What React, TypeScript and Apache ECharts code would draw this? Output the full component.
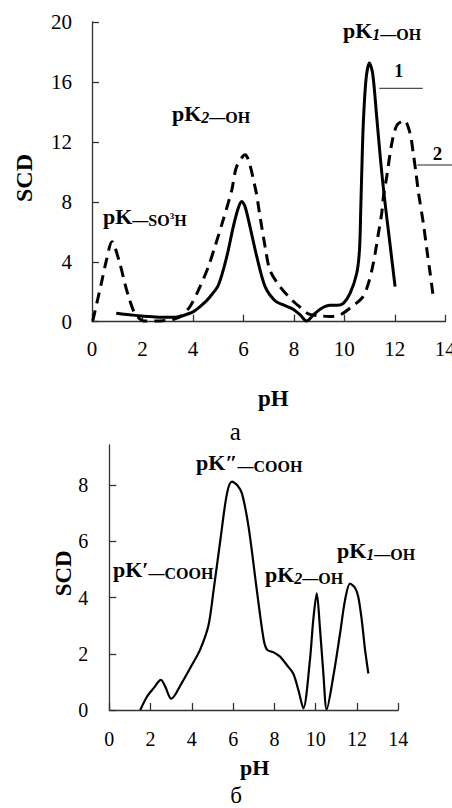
import React, { useEffect, useRef } from "react";
import * as echarts from "echarts";

// ---------- data ----------
const PH_TICKS_STEP = 2;
const PH_MAX = 14;
const SCD_A_MAX = 20;
const SCD_A_STEP = 4;
const SCD_B_MAX = 9.43;
const SCD_B_STEP = 2;
const SCD_B_TICKS = [0, 2, 4, 6, 8];

// Chart a, curve 1 (solid)
const curve1PH = [0.96, 1.5, 1.95, 2.4, 2.88, 3.3, 3.6, 4.02, 4.35, 4.68, 5.01, 5.34, 5.6, 5.8, 5.93, 6.06, 6.26, 6.53, 6.86, 7.25, 7.6, 7.95, 8.25, 8.5, 8.8, 9.1, 9.43, 9.7, 9.96, 10.23, 10.49, 10.6, 10.65, 10.69, 10.75, 10.86, 10.99, 11.12, 11.28, 11.45, 11.58, 11.8, 12.01];
const curve1SCD = [0.56, 0.46, 0.38, 0.33, 0.29, 0.3, 0.4, 0.67, 1.1, 1.67, 2.45, 4.34, 6.35, 7.6, 8.02, 7.7, 6.35, 4.34, 2.34, 1.4, 1.1, 0.85, 0.45, 0.05, 0.5, 0.9, 1.1, 1.1, 1.23, 1.9, 3.23, 4.8, 7.5, 10.0, 13.2, 16.2, 17.26, 16.6, 13.7, 10.5, 8.4, 5.3, 2.34];

// Chart a, curve 2 (dashed)
const curve2PH = [0.03, 0.37, 0.57, 0.79, 1.1, 1.3, 1.49, 1.69, 1.85, 2.05, 2.5, 3.0, 3.3, 3.49, 3.88, 4.28, 4.61, 4.87, 5.2, 5.54, 5.73, 6.06, 6.46, 6.66, 6.86, 7.05, 7.45, 7.92, 8.3, 8.6, 9.0, 9.4, 9.83, 10.29, 10.69, 10.89, 11.09, 11.22, 11.35, 11.48, 11.55, 11.68, 11.88, 12.08, 12.37, 12.6, 12.73, 12.84, 12.94, 13.13, 13.27, 13.4, 13.53];
const curve2SCD = [0.05, 2.56, 4.1, 5.34, 3.9, 2.56, 1.45, 0.56, 0.25, 0.05, 0.05, 0.1, 0.2, 0.33, 1.0, 2.34, 3.67, 5.0, 6.8, 8.8, 10.35, 11.14, 9.0, 7.0, 5.0, 3.45, 2.34, 1.45, 0.9, 0.5, 0.4, 0.35, 0.45, 1.0, 1.56, 2.23, 3.45, 4.57, 5.9, 7.24, 8.35, 9.69, 11.9, 13.1, 13.43, 12.6, 11.25, 9.9, 8.58, 6.57, 4.79, 3.23, 1.56];

// Chart б
const curveBPH = [1.5, 1.83, 2.15, 2.5, 2.7, 3.0, 3.5, 4.0, 4.4, 4.8, 5.05, 5.38, 5.7, 5.94, 6.2, 6.43, 6.75, 7.15, 7.48, 7.64, 7.96, 8.27, 8.6, 8.91, 9.16, 9.4, 9.72, 9.88, 10.05, 10.2, 10.37, 10.53, 10.85, 11.18, 11.42, 11.66, 11.9, 12.06, 12.23, 12.39, 12.55];
const curveBSCD = [0, 0.48, 0.78, 1.07, 0.85, 0.4, 0.95, 1.6, 2.15, 3.0, 4.25, 6.05, 7.7, 8.13, 8.0, 7.7, 6.5, 4.25, 2.5, 2.15, 2.05, 1.9, 1.6, 1.3, 0.71, 0.06, 1.78, 3.2, 4.15, 2.96, 1.3, 0.02, 1.19, 2.73, 3.91, 4.5, 4.35, 4.03, 3.2, 2.14, 1.3];

const FONT = '"Liberation Serif", "Times New Roman", serif';

type Piece = { t: string; size: number; style?: string; dy?: number };

function zip(xs: number[], ys: number[]) {
  return xs.map((x, i) => [x, ys[i]]);
}

function fontOf(p: Piece) {
  const st = p.style ?? "b";
  const italic = st.includes("i") ? "italic " : "";
  const bold = st.includes("b") ? "bold " : "";
  return `${italic}${bold}${p.size}px ${FONT}`;
}

let measureCtx: CanvasRenderingContext2D | null = null;
function measure(text: string, font: string) {
  if (!measureCtx) measureCtx = document.createElement("canvas").getContext("2d");
  if (!measureCtx) return text.length * 8;
  measureCtx.font = font;
  return measureCtx.measureText(text).width;
}

function richLabel(x: number, baseline: number, pieces: Piece[]) {
  const children: any[] = [];
  let cx = x;
  for (const p of pieces) {
    const font = fontOf(p);
    const w = measure(p.t, font);
    children.push({
      type: "text",
      x: cx,
      y: baseline + (p.dy || 0) - 0.34 * p.size,
      style: { text: p.t, font, fill: "#000", align: "left", verticalAlign: "middle" },
    });
    cx += w;
  }
  return { type: "group", children };
}

function centerText(x: number, baseline: number, text: string, size: number, style: string, rotate = 0) {
  const font = fontOf({ t: text, size, style });
  if (rotate) {
    return {
      type: "text",
      x,
      y: baseline,
      rotation: rotate,
      style: { text, font, fill: "#000", align: "center", verticalAlign: "middle" },
    };
  }
  return {
    type: "text",
    x,
    y: baseline - 0.34 * size,
    style: { text, font, fill: "#000", align: "center", verticalAlign: "middle" },
  };
}

const AXIS_COLOR = "#333";

function axisCommon(fontSize: number, margin: number) {
  return {
    axisLine: { show: true, onZero: false, lineStyle: { color: AXIS_COLOR, width: 1.3 } },
    axisTick: { show: true, inside: true, length: 7, lineStyle: { color: AXIS_COLOR, width: 1.3 } },
    axisLabel: { margin, fontSize, fontFamily: FONT, color: "#000" },
    splitLine: { show: false },
  };
}

export default function App() {
  const ref = useRef<HTMLDivElement>(null);

  useEffect(() => {
    document.body.style.margin = "0";
    if (!ref.current) return;
    const chart = echarts.init(ref.current, undefined, { renderer: "svg" });

    const xa0 = axisCommon(21, 17);
    const ya0 = axisCommon(21, 20);
    const xa1 = axisCommon(20, 19);
    const ya1 = axisCommon(20, 21);

    const graphics: any[] = [
      // chart a annotations
      richLabel(343, 37.7, [
        { t: "pK", size: 22 },
        { t: "1", size: 16, style: "bi", dy: 2 },
        { t: "—OH", size: 16, dy: 2 },
      ]),
      richLabel(172, 120.5, [
        { t: "pK", size: 22 },
        { t: "2", size: 16, style: "bi", dy: 2.5 },
        { t: "—OH", size: 16, dy: 2.5 },
      ]),
      richLabel(103, 223.5, [
        { t: "pK", size: 22 },
        { t: "—SO", size: 16, dy: 2.5 },
        { t: "3", size: 9, dy: -4 },
        { t: "H", size: 16, dy: 2.5 },
      ]),
      centerText(398.7, 77.3, "1", 18, "b"),
      { type: "line", shape: { x1: 379.3, y1: 88.3, x2: 422.7, y2: 88.3 }, style: { stroke: "#222", lineWidth: 1 } },
      centerText(437.5, 160, "2", 19, "b"),
      { type: "line", shape: { x1: 417.3, y1: 165, x2: 452, y2: 165 }, style: { stroke: "#222", lineWidth: 1 } },
      centerText(24, 178, "SCD", 24, "b", Math.PI / 2),
      centerText(273.3, 406, "pH", 23, "b"),
      centerText(235.3, 439.5, "a", 25, ""),
      // chart б annotations
      richLabel(196, 470, [
        { t: "pK″", size: 22 },
        { t: "—COOH", size: 16, dy: 2 },
      ]),
      richLabel(113, 576.5, [
        { t: "pK′", size: 22 },
        { t: "—COOH", size: 16, dy: 2 },
      ]),
      richLabel(265, 582, [
        { t: "pK", size: 22 },
        { t: "2", size: 16, style: "bi", dy: 2 },
        { t: "—OH", size: 16, dy: 2 },
      ]),
      richLabel(337, 558, [
        { t: "pK", size: 22 },
        { t: "1", size: 16, style: "bi", dy: 2 },
        { t: "—OH", size: 16, dy: 2 },
      ]),
      centerText(63.3, 573.3, "SCD", 23, "b", Math.PI / 2),
      centerText(254.7, 775, "pH", 22, "b"),
      centerText(236, 803, "б", 23, ""),
    ];

    const option: any = {
      animation: false,
      backgroundColor: "#fff",
      grid: [
        { left: 92, top: 22, width: 353.3, height: 299.7, containLabel: false, outerBoundsMode: "none" },
        { left: 109.3, top: 445, width: 289, height: 265, containLabel: false, outerBoundsMode: "none" },
      ],
      xAxis: [
        { gridIndex: 0, type: "value", min: 0, max: PH_MAX, interval: PH_TICKS_STEP, ...xa0 },
        { gridIndex: 1, type: "value", min: 0, max: PH_MAX, interval: PH_TICKS_STEP, ...xa1 },
      ],
      yAxis: [
        { gridIndex: 0, type: "value", min: 0, max: SCD_A_MAX, interval: SCD_A_STEP, ...ya0 },
        {
          gridIndex: 1,
          type: "value",
          min: 0,
          max: SCD_B_MAX,
          interval: SCD_B_STEP,
          ...ya1,
          axisTick: { ...ya1.axisTick, customValues: SCD_B_TICKS },
          axisLabel: { ...ya1.axisLabel, customValues: SCD_B_TICKS },
        },
      ],
      series: [
        {
          type: "line",
          xAxisIndex: 0,
          yAxisIndex: 0,
          data: zip(curve1PH, curve1SCD),
          showSymbol: false,
          smooth: 0.3,
          lineStyle: { color: "#000", width: 3 },
          z: 3,
        },
        {
          type: "line",
          xAxisIndex: 0,
          yAxisIndex: 0,
          data: zip(curve2PH, curve2SCD),
          showSymbol: false,
          smooth: 0.3,
          lineStyle: { color: "#000", width: 3, type: [11, 7] },
          z: 2,
        },
        {
          type: "line",
          xAxisIndex: 1,
          yAxisIndex: 1,
          data: zip(curveBPH, curveBSCD),
          showSymbol: false,
          smooth: 0.3,
          lineStyle: { color: "#000", width: 2.2 },
        },
      ],
      graphic: { elements: graphics },
    };

    chart.setOption(option);
    return () => chart.dispose();
  }, []);

  return <div ref={ref} style={{ width: 452, height: 808 }} />;
}
